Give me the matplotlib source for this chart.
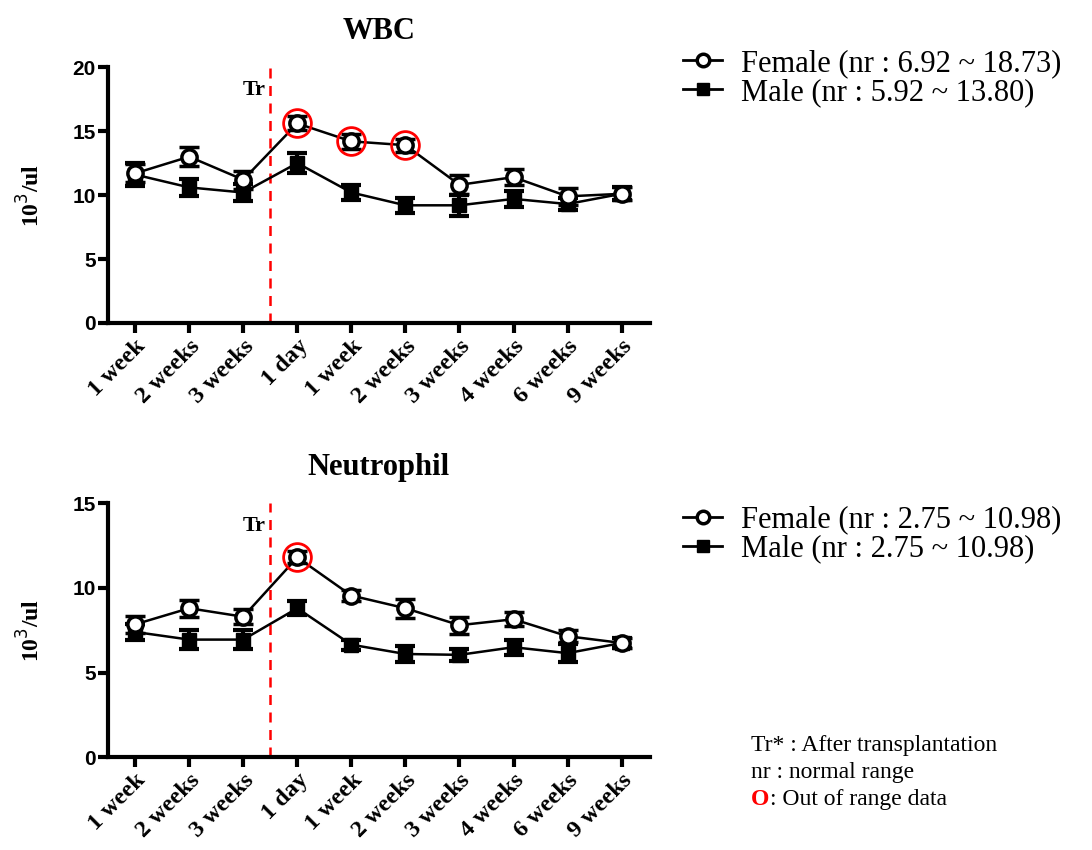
import matplotlib.pyplot as plt
from matplotlib.lines import Line2D

# time points (before / after transplantation)
labels = ['1 week', '2 weeks', '3 weeks', '1 day', '1 week', '2 weeks',
          '3 weeks', '4 weeks', '6 weeks', '9 weeks']

wbc_female = [11.7, 13.0, 11.2, 15.6, 14.2, 13.9, 10.8, 11.4, 9.9, 10.1]
wbc_female_err = [0.7, 0.75, 0.7, 0.55, 0.6, 0.5, 0.75, 0.65, 0.65, 0.5]
wbc_male = [11.6, 10.6, 10.2, 12.5, 10.2, 9.2, 9.2, 9.7, 9.3, 10.1]
wbc_male_err = [0.9, 0.65, 0.65, 0.8, 0.6, 0.6, 0.8, 0.65, 0.5, 0.5]
wbc_out = [3, 4, 5]

neu_female = [7.85, 8.8, 8.3, 11.8, 9.55, 8.8, 7.8, 8.15, 7.15, 6.75]
neu_female_err = [0.5, 0.5, 0.45, 0.35, 0.35, 0.55, 0.5, 0.4, 0.35, 0.3]
neu_male = [7.4, 6.95, 6.95, 8.8, 6.65, 6.1, 6.05, 6.5, 6.15, 6.75]
neu_male_err = [0.45, 0.55, 0.55, 0.4, 0.3, 0.5, 0.35, 0.45, 0.55, 0.3]
neu_out = [3]

serif = 'Liberation Serif'
sans = 'Liberation Sans'


def draw_panel(ax, title, female, ferr, male, merr, out, ymax, yticks):
    x = list(range(len(labels)))
    ax.errorbar(x, male, yerr=merr, fmt='-s', color='black', ms=10, lw=1.8,
                elinewidth=3, capsize=7, capthick=3, zorder=3)
    ax.errorbar(x, female, yerr=ferr, fmt='-o', color='black', ms=11,
                mfc='white', mec='black', mew=2.5, lw=1.8,
                elinewidth=3, capsize=7, capthick=3, zorder=4)
    ax.plot([x[i] for i in out], [female[i] for i in out], 'o', ms=20,
            mfc='none', mec='red', mew=2, zorder=5)

    ax.axvline(2.5, color='red', ls=(0, (4, 3)), lw=1.8, zorder=2)
    ax.text(2.42, ymax * 0.91, 'Tr', ha='right', va='center',
            fontfamily=serif, fontweight='bold', fontsize=16)

    ax.set_xlim(-0.5, 9.52)
    ax.set_ylim(0, ymax)
    ax.set_yticks(yticks)
    ax.set_xticks(x)
    ax.set_xticklabels(labels, rotation=45, ha='right', rotation_mode='anchor',
                       fontfamily=serif, fontweight='bold', fontsize=17.5)
    for t in ax.get_yticklabels():
        t.set_fontfamily(sans)
        t.set_fontweight('bold')
        t.set_fontsize(15)
    ax.set_ylabel('10$^3$/ul', fontfamily=serif, fontweight='bold',
                  fontsize=17, labelpad=20)
    ax.set_title(title, fontfamily=serif, fontweight='bold', fontsize=22,
                 pad=20)

    ax.spines['top'].set_visible(False)
    ax.spines['right'].set_visible(False)
    ax.spines['left'].set_linewidth(3)
    ax.spines['bottom'].set_linewidth(3)
    ax.tick_params(width=3, length=7, direction='out', pad=2)


fig = plt.figure(figsize=(10.92, 8.5), dpi=100)
ax1 = fig.add_axes([0.099, 0.62, 0.496, 0.301])
ax2 = fig.add_axes([0.099, 0.109, 0.496, 0.299])

draw_panel(ax1, 'WBC', wbc_female, wbc_female_err, wbc_male, wbc_male_err,
           wbc_out, 20, [0, 5, 10, 15, 20])
draw_panel(ax2, 'Neutrophil', neu_female, neu_female_err, neu_male,
           neu_male_err, neu_out, 15, [0, 5, 10, 15])

f_handle = Line2D([], [], color='black', marker='o', ms=9, mfc='white',
                  mec='black', mew=2.5, lw=2)
m_handle = Line2D([], [], color='black', marker='s', ms=8, lw=2)

leg_kw = dict(loc='upper left', frameon=False,
              prop={'family': serif, 'size': 22}, handlelength=1.3,
              labelspacing=0.0, handletextpad=0.6, borderaxespad=0)
fig.legend([f_handle, m_handle],
           ['Female (nr : 6.92 ~ 18.73)', 'Male (nr : 5.92 ~ 13.80)'],
           bbox_to_anchor=(0.614, 0.957), **leg_kw)
fig.legend([f_handle, m_handle],
           ['Female (nr : 2.75 ~ 10.98)', 'Male (nr : 2.75 ~ 10.98)'],
           bbox_to_anchor=(0.614, 0.42), **leg_kw)

fig.text(0.688, 0.123, 'Tr* : After transplantation', fontfamily=serif,
         fontsize=17, va='center')
fig.text(0.688, 0.091, 'nr : normal range', fontfamily=serif,
         fontsize=17, va='center')
fig.text(0.688, 0.059, 'O', fontfamily=serif, fontsize=17, va='center',
         color='red', fontweight='bold')
fig.text(0.705, 0.059, ': Out of range data', fontfamily=serif,
         fontsize=17, va='center')

fig.savefig('out.png', dpi=100)
